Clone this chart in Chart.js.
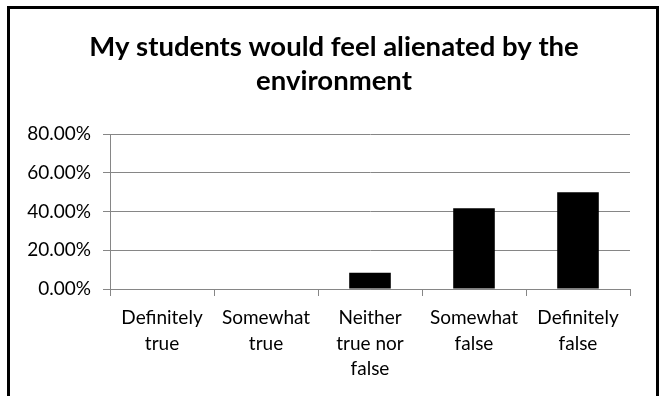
<!DOCTYPE html>
<html>
<head>
<meta charset="utf-8">
<script src="https://cdn.jsdelivr.net/npm/chart.js@4/dist/chart.umd.min.js"></script>
<style>
  html, body { margin: 0; padding: 0; background: #fff; overflow: hidden; }
  #wrap { position: relative; width: 659px; height: 396px; }
  #c { position: absolute; left: 0; top: 0; }
  #frame {
    position: absolute; left: 7px; top: 6px; width: 652px; height: 400px;
    box-sizing: border-box; border: 3px solid #000; border-bottom: none;
    pointer-events: none;
  }
</style>
</head>
<body>
<div id="wrap">
  <canvas id="c" width="659" height="396"></canvas>
  <div id="frame"></div>
</div>
<script>
// Survey answers for the statement below
const titleLines = ['My students would feel alienated by the', 'environment'];
const categories = [
  ['Definitely', 'true'],
  ['Somewhat', 'true'],
  ['Neither', 'true nor', 'false'],
  ['Somewhat', 'false'],
  ['Definitely', 'false']
];
const shares = [0, 0, 8.33, 41.67, 50.00]; // percent of respondents
const yTicks = [0, 20, 40, 60, 80];

const axisGray = '#868686';
const labelFont = { family: 'Lato', size: 19 };

new Chart(document.getElementById('c'), {
  type: 'bar',
  data: {
    labels: categories,
    datasets: [{
      data: shares,
      backgroundColor: '#000',
      borderWidth: 0,
      categoryPercentage: 1,
      barPercentage: 0.4
    }]
  },
  options: {
    responsive: false,
    animation: false,
    devicePixelRatio: 1,
    layout: { padding: { left: 9, right: 0, top: 0, bottom: 0 } },
    plugins: {
      legend: { display: false },
      tooltip: { enabled: false },
      title: {
        display: true,
        text: titleLines,
        color: '#000',
        font: { family: 'Lato', size: 27.5, weight: 'bold', lineHeight: '34px' },
        padding: { top: 30, bottom: 36 }
      }
    },
    scales: {
      x: {
        grid: { display: true, drawOnChartArea: false, drawTicks: true, tickLength: 7, color: axisGray, offset: true },
        border: { display: true, color: axisGray, width: 1 },
        ticks: { color: '#000', font: { ...labelFont, lineHeight: 1.35 }, padding: 9, maxRotation: 0, autoSkip: false },
        afterFit: s => { s.height = 107; }
      },
      y: {
        min: yTicks[0],
        max: yTicks[yTicks.length - 1],
        afterBuildTicks: s => { s.ticks = yTicks.map(v => ({ value: v })); },
        grid: { color: axisGray, lineWidth: 1, tickLength: 7, drawTicks: true },
        border: { display: true, color: axisGray, width: 1 },
        ticks: { color: '#000', font: labelFont, padding: 12, callback: v => v.toFixed(2) + '%' },
        afterFit: s => { s.width = 101; }
      },
      spacer: {
        type: 'linear',
        position: 'right',
        display: true,
        grid: { display: false },
        border: { display: false },
        ticks: { display: false },
        afterFit: s => { s.width = 29; }
      }
    }
  }
});
</script>
</body>
</html>
